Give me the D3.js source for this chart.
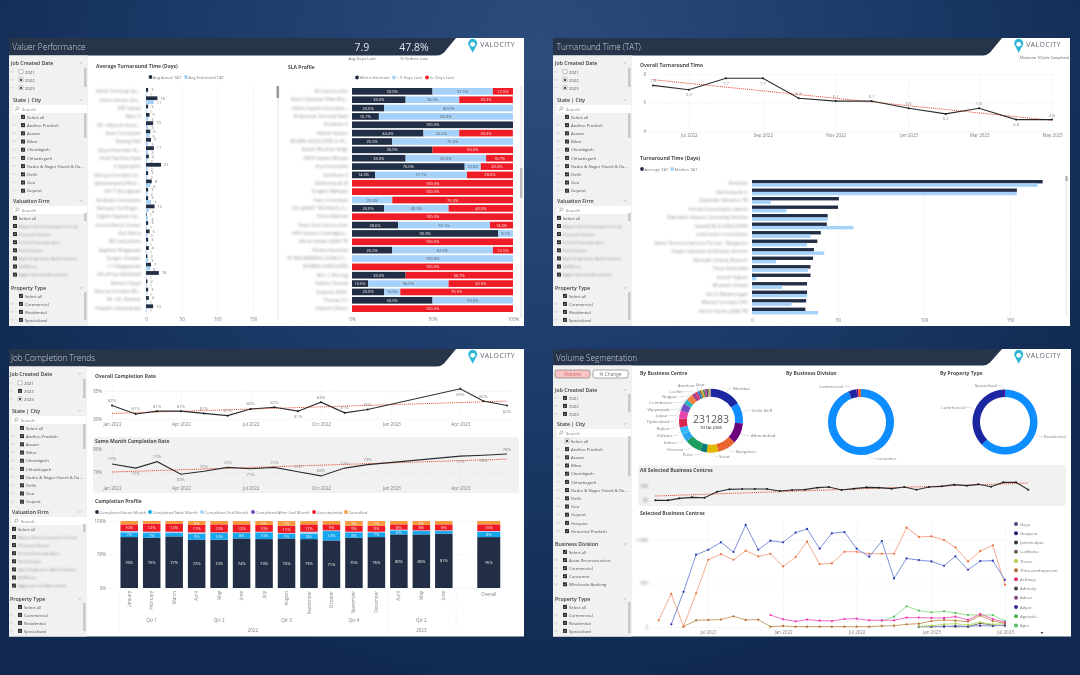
<!DOCTYPE html>
<html>
<head>
<meta charset="utf-8">
<script src="https://cdn.jsdelivr.net/npm/d3@7/dist/d3.min.js"></script>
<style>
  html, body { margin: 0; padding: 0; background: #132c55; overflow: hidden; }
  svg { display: block; }
  text { font-family: "Open Sans", "Noto Sans", sans-serif; }
</style>
</head>
<body>
<div id="chart"></div>
<script>
// ---------- data ----------
var years = ["2021", "2022", "2023"];
var states = ["Select all", "Andhra Pradesh", "Assam", "Bihar", "Chandigarh", "Chhattisgarh", "Dadra & Nagar Haveli & Da...", "Delhi", "Goa", "Gujarat"];
var statesLong = states.concat(["Haryana", "Himachal Pradesh"]);
var firms = ["Select all", "Bikam Shiva Vastusala Pvt Ltd", "Phoenix Valuers", "Sristal Vishvuda Barn", "Ruchi Shata", "Apex Engineers (Ankit Valuers", "Stiffeluss", "Aggarwal and Associates"];
var propertyTypes = ["Select all", "Commercial", "Residential", "Specialised"];
var divisions = ["Select all", "Asset Reconstruction", "Commercial", "Consumer", "Wholesale Banking"];

var valuerNames = ["Adroit Technical Ser...", "Adroit Stream Sha...", "EYE Valuati", "Babu D", "OD. Aditya & Associ...", "Ravin Consultant", "Shyang Patil", "Divya Amarnder As...", "Vivek Harshita Patel", "S Ayyanakshi", "Maruya Concepts Co...", "Satyanarayana Bhat ...", "Shri T Murugesan", "Shukkala Consultants", "Rachana Civil Engin...", "Yogesh Rajaram Vai...", "Arvind Maruti Chavan", "Atul Mahta", "BR Consultants", "Rajankar Bhagawaty", "Durgan Chutakh", "V V Rajagopalan", "Akruthhya Gehikhedi", "Mukesh Gupal", "Mourya Concepts Be...", "Mr. Vilt. Shankar", "Prakash Lokhandwala"];
var avgActual = [3, 16, 3, 5, 10, 6, 7, 11, 4, 21, 3, 8, 3, 3, 12, 1, 3, 5, 3, 4, 2, 7, 18, 2, 3, 4, 10];
var avgEstimated = [1, 11, 1, 3, 3, 5, 3, 3, 2, 2, 2, 6, 2, 7, 4, 3, 1, 2, 1, 1, 3, 6, 1, 1, 1, 1, 1];

var slaNames = ["SR Construction", "Adroit Valuation West Bro...", "Aditha Square Associates...", "Shilpkumar Amrutlal Patel", "Shubham K", "Maruti Valuers", "MUDRA ASSOCIATES & VA...", "Shashi Bhushan Singh", "ARCH Valuers Bhopal", "Arya Associates", "Certificare S", "Abhimanyu& Sk", "Durgam Mahajan", "Hasti Consultant", "HO ADROIT TECHNICAL S...", "Prince Mathew", "Titans Eval Construction", "ARVI Advisors Vadodgara...", "Adroit Valuers (GRR) TN", "Parulia Associate", "RF ENGINEERING CONSULT...", "SHARMA ASSOCIATES", "Shri. C Murong", "Subhas Tamsak", "Sukanno MVPC", "Thomas K V", "Adarshit Shouri"];
var slaWithin = [50, 33.3, 20, 16.7, 100, 44.4, 25, 50, 33.3, 70, 14.3, 0, 0, 0, 20, 0, 28.6, 90.9, 0, 25, 0, 0, 33.3, 10, 20, 50, 0];
var slaUnder5 = [37.5, 33.3, 80, 83.3, 0, 22.2, 75, 0, 50, 10, 57.1, 0, 0, 25, 40, 0, 57.1, 9.1, 0, 62.5, 100, 0, 0, 50, 10, 50, 0];
var slaOver5 = [12.5, 33.3, 0, 0, 0, 33.3, 0, 50, 16.7, 20, 28.6, 100, 100, 75, 40, 100, 14.3, 0, 100, 12.5, 0, 100, 66.7, 40, 70, 0, 100];

var tatMonths = ["2022-06", "2022-07", "2022-08", "2022-09", "2022-10", "2022-11", "2022-12", "2023-01", "2023-02", "2023-03", "2023-04", "2023-05"];
var tatValues = [7.2, 6.9, 7.7, 7.7, 6.3, 6.1, 6.1, 5.6, 5.2, 5.6, 4.8, 4.8];
var tatLabels = ["7.4", "6.9", "7.7", "7.7", "6.3", "6.1", "6.1", "5.6", "5.2", "5.6", "4.8", "4.8"];
var tatTrend = [7.6, 4.75];

var tatNames = ["Endurian", "Abhimanyu& sr", "Dependkr Valuation TN", "Arihant Consultation Vehicle", "Evaluation Aspects Consulting Services", "ValuedCRe & ASSOCIATES", "Subhranshu Consultants", "Adroit Technical Services Pvt Ltd. - Bengaluru", "Insight Valuation & Advisory Services", "Mrunalin Chokse_Bharuch", "Paras Associates", "Suresh Vajpani", "Mrunalin Chokse", "Shri D Balamurugan", "Maurya Concepts DPC", "Adroit Valuers (GRR) TN"];
var tatAverage = [169, 154, 50.5, 50, 44, 43.5, 40, 38, 36, 35.5, 34, 34, 32, 32, 31.5, 31];
var tatMedian = [166, 154, 11, 20, 44, 59, 34, 32, 42, 14, 32.5, 2.5, 17.5, 32, 23, 38.5];

var compMonths = ["2022-01", "2022-02", "2022-03", "2022-04", "2022-05", "2022-06", "2022-07", "2022-08", "2022-09", "2022-10", "2022-11", "2022-12", "2023-04", "2023-05", "2023-06"];
var overallRate = [82.4, 80.9, 81.4, 81.4, 81.0, 80.6, 81.8, 82.1, 81.4, 83.0, 81.1, 81.7, 85.4, 83.2, 82.4];
var overallLabels = ["82%", "81%", "81%", "81%", "81%", "81%", "82%", "82%", "81%", "83%", "81%", "82%", "85%", "85%", "82%"];
var overallTrend = [81.0, 83.2];
var sameRate = [73.5, 71.7, 74.5, 69, 70.3, 72, 71.4, 72, 70.1, 68.3, 71.7, 73.2, 76.9, 77.3, 77.8];
var sameLabels = ["73%", "72%", "75%", "69%", "70%", "72%", "71%", "72%", "70%", "68%", "72%", "73%", "77%", "78%", "78%"];
var sameTrend = [70, 75.6];

var profileKeys = ["Completed Same Month", "Completed Next Month", "Completed 2nd Month", "Completed After 2nd Month", "Uncompleted", "Cancelled"];
var profileMonths = ["January", "February", "March", "April", "May", "June", "July", "August", "September", "October", "November", "December", "April ", "May ", "June "];
var profileSame = [76, 75, 77, 72, 72, 74, 73, 74, 73, 71, 75, 76, 80, 80, 81];
var profileNext = [7, 7, 5, 9, 10, 8, 10, 7, 8, 14, 8, 7, 6, 5, 4];
var profile2nd = [2, 2, 2, 2, 1, 1, 1, 1, 3, 1, 1, 1, 1, 1, 1];
var profileAfter = [0, 0, 0, 0, 0, 0, 0, 0, 0, 0, 0, 0, 0, 0, 0];
var profileUncomp = [10, 12, 12, 11, 12, 12, 10, 11, 11, 9, 9, 9, 8, 8, 9];
var profileCancel = [5, 4, 4, 6, 5, 5, 6, 7, 5, 5, 7, 7, 5, 6, 5];
var overallProfile = [76, 8, 1, 0, 10, 5];

var centreNames = ["Mumbai", "Delhi NCR", "Ahmedabad", "Bangalore", "Surat", "Pune", "Chennai", "Indore", "Kolkata", "Rajkot", "Hyderabad", "Jaipur", "Vijayawada", "Coimbatore", "Nagpur", "Cochin", "Amritsar", "Goa", "", "", "", "", "", ""];
var centreJobs = [36600, 24400, 24400, 21800, 13500, 7700, 19300, 9000, 9000, 10300, 9600, 9000, 5800, 7700, 3900, 3200, 2600, 1900, 2000, 2000, 2000, 1900, 1900, 1900];
var divisionNames = ["Consumer", "Commercial", "Wholesale Banking", "Asset Reconstruction"];
var divisionJobs = [217000, 9000, 2000, 3283];
var typeNames = ["Residential", "Commercial", "Specialised"];
var typeJobs = [145000, 85000, 1283];

var allMonths = ["2021-01", "2021-02", "2021-03", "2021-04", "2021-05", "2021-06", "2021-07", "2021-08", "2021-09", "2021-10", "2021-11", "2021-12", "2022-01", "2022-02", "2022-03", "2022-04", "2022-05", "2022-06", "2022-07", "2022-08", "2022-09", "2022-10", "2022-11", "2022-12", "2023-01", "2023-02", "2023-03", "2023-04", "2023-05", "2023-06", "2023-07"];
var allCentres = [4880, 4880, 5595, 5950, 5830, 7975, 8810, 8930, 8930, 8930, 8215, 8570, 8690, 9405, 9640, 8570, 9050, 9520, 9405, 9050, 9640, 8690, 9640, 9880, 10475, 10120, 10595, 9760, 11300, 11300, 8690];
var allTrend = [6430, 11070];

var lineMonths = ["2021-03", "2021-04", "2021-05", "2021-06", "2021-07", "2021-08", "2021-09", "2021-10", "2021-11", "2021-12", "2022-01", "2022-02", "2022-03", "2022-04", "2022-05", "2022-06", "2022-07", "2022-08", "2022-09", "2022-10", "2022-11", "2022-12", "2023-01", "2023-02", "2023-03", "2023-04", "2023-05", "2023-06", "2023-07"];
var n = null;
var lineOrange = [77, 381, 4, 388, 773, 838, 773, 877, 811, 842, 696, 804, 981, 723, 731, 865, 865, 842, 842, 842, 1142, 1035, 1042, 1000, 915, 754, 873, 938, 485];
var lineBlue = [n, 31, 404, 831, 888, 973, 862, 1173, 888, 992, 973, 1085, 1127, 900, 1077, 1092, 900, 808, 988, 558, 788, 769, 754, 704, 812, 658, 758, 762, 542];
var lineGold = [n, n, 4, 77, 81, 85, 123, 81, 85, 4, 12, 4, 4, 4, 4, 4, 4, 4, 12, 15, 31, 38, 69, 81, 73, 62, 131, 69, 42];
var linePink = [n, n, n, n, n, n, n, n, n, 138, 88, 65, 85, 73, 69, 92, 96, 77, 77, 77, 108, 108, 104, 104, 119, 81, 150, 92, 54];
var lineGreen = [n, n, n, n, n, n, n, n, n, n, n, n, n, n, n, n, n, n, 73, 119, 238, 188, 169, 181, 162, 138, 138, 138, 69];
var lineLime = [n, n, n, n, n, n, n, n, n, n, n, n, n, n, n, n, n, n, n, n, n, 8, 15, 31, 38, 23, 54, 31, 38];
var lineDark = [n, n, n, n, n, n, n, n, n, n, n, n, n, n, n, n, n, n, n, n, n, 4, 4, 8, 4, 4, 42, 23, 15];
var lineNavy = [n, n, n, n, n, n, n, n, n, n, n, n, n, n, n, n, n, n, n, n, n, 4, 4, 4, 12, 8, 15, 12, 23];
var legendNames = ["Gaya", "Gurgaon", "Jamshedpur", "Ludhiana", "Thane", "Thiruvanthapuram", "Achhaja", "Adimaly", "Adoor", "Adyar", "Agartala", "Agra"];

// ---------- colours ----------
var navy = "#242f45", sky = "#a6d2fa", red = "#ee1c25", header = "#27344a", gridGrey = "#d8d8d8", textGrey = "#7d7d7d", titleGrey = "#4a4a4a";
var profileColors = [navy, "#12a6ee", sky, "#6b3fc0", red, "#f79a3e"];
var centreColors = ["#1a25a0", "#118dff", "#6b007b", "#e8662e", "#e5b800", "#0a7c78", "#1f9e5f", "#2aa5f0", "#38b6f5", "#d9264f", "#e645ab", "#744ec2", "#2cb5c0", "#f0803c", "#9c3d8f", "#d63a6a", "#2f6fd0", "#7a7a3a", "#e0a030", "#3a8a5a", "#c03a90", "#444a8a", "#b09030", "#999999"];
var legendColors = ["#4a4a7a", "#1a1a6e", "#333333", "#7a5a50", "#a8d040", "#b07030", "#e8306a", "#444444", "#7a4a7a", "#3a2a9a", "#50b050", "#50c060"];

var parseMonth = d3.utcParse("%Y-%m");
var monthFormat = d3.utcFormat("%b %Y");

var svg = d3.select("#chart").append("svg").attr("width", 1080).attr("height", 675);
var defs = svg.append("defs");

var bg = defs.append("radialGradient").attr("id", "bg").attr("gradientUnits", "userSpaceOnUse")
  .attr("cx", 540).attr("cy", 60).attr("r", 640);
bg.append("stop").attr("offset", "0").attr("stop-color", "#2c4c7c");
bg.append("stop").attr("offset", "0.55").attr("stop-color", "#1b3a68");
bg.append("stop").attr("offset", "1").attr("stop-color", "#11294f");

defs.append("filter").attr("id", "soft").attr("x", "0").attr("y", "0").attr("width", "100%").attr("height", "100%")
  .append("feGaussianBlur").attr("stdDeviation", 0.45);
defs.append("filter").attr("id", "smear").attr("x", "-10%").attr("y", "-60%").attr("width", "120%").attr("height", "220%")
  .append("feGaussianBlur").attr("stdDeviation", 1.15);

svg.append("rect").attr("width", 1080).attr("height", 675).attr("fill", "url(#bg)");
var root = svg.append("g").attr("filter", "url(#soft)");

// ---------- helpers ----------
function label(g, x, y, str, size, color, anchor, weight) {
  return g.append("text").attr("x", x).attr("y", y).text(str)
    .attr("font-size", size).attr("fill", color || textGrey)
    .attr("text-anchor", anchor || "start").attr("font-weight", weight || 400);
}

function chartTitle(g, x, y, str) {
  return label(g, x, y, str, 5, titleGrey, "start", 700);
}

function chevron(g, x, y, color) {
  g.append("path").attr("d", `M${x - 1.6},${y - 1} L${x},${y + 0.6} L${x + 1.6},${y - 1}`)
    .attr("fill", "none").attr("stroke", color || "#999").attr("stroke-width", 0.5);
}

function checkbox(g, x, y, state) {
  if (state === "on") {
    g.append("rect").attr("x", x).attr("y", y - 3.6).attr("width", 4).attr("height", 4).attr("fill", "#2a2a2a");
    g.append("path").attr("d", `M${x + 0.8},${y - 1.6} L${x + 1.7},${y - 0.7} L${x + 3.2},${y - 2.7}`)
      .attr("fill", "none").attr("stroke", "#fff").attr("stroke-width", 0.45);
  } else {
    g.append("rect").attr("x", x).attr("y", y - 3.6).attr("width", 4).attr("height", 4)
      .attr("fill", "#fff").attr("stroke", "#777").attr("stroke-width", 0.4);
    if (state === "part") {
      g.append("rect").attr("x", x + 1).attr("y", y - 2.6).attr("width", 2).attr("height", 2).attr("fill", "#444");
    }
  }
}

// one slicer section: heading, optional search box, list of ticks, scrollbar
function slicerSection(g, o) {
  label(g, o.headX, o.headY, o.title, 5.2, "#3a3a3a", "start", 600);
  chevron(g, o.right - 7, o.headY - 2);
  if (o.search) {
    g.append("rect").attr("x", o.headX).attr("y", o.headY + 3).attr("width", o.right - o.headX - 1).attr("height", 8).attr("fill", "#fff");
    g.append("circle").attr("cx", o.headX + 4.5).attr("cy", o.headY + 6.3).attr("r", 1.5).attr("fill", "none").attr("stroke", "#555").attr("stroke-width", 0.4);
    g.append("path").attr("d", `M${o.headX + 3.4},${o.headY + 7.4} L${o.headX + 2},${o.headY + 8.9}`).attr("stroke", "#555").attr("stroke-width", 0.5);
    label(g, o.headX + 9, o.headY + 8.7, "Search", 4.3, "#777");
  }
  o.items.forEach(function(item, i) {
    var y = o.firstY + i * o.step;
    if (y > o.clipY) return;
    var tree = o.tree && (o.treeAll || i > 0);
    if (tree) chevron(g, o.boxX - 7, y - 1.6, "#aaa");
    checkbox(g, o.boxX, y, o.states ? o.states[i] : "on");
    var t = label(g, o.boxX + 6, y, item, 4.25, "#555");
    if (o.smear && i > 0) t.attr("filter", "url(#smear)").attr("fill", "#8a8a8a");
  });
  if (o.thumb) {
    g.append("rect").attr("x", o.right - 4).attr("y", o.thumb[0]).attr("width", 2.6).attr("height", o.thumb[1] - o.thumb[0]).attr("fill", "#c9c9c9");
  }
}

function panelShell(px, py, w, h, title, notchTop, notchBottom, headH, paneW, titleX) {
  var g = root.append("g");
  g.append("rect").attr("x", px).attr("y", py).attr("width", w).attr("height", h).attr("fill", "#fff");
  g.append("path")
    .attr("d", `M${px},${py} H${notchTop} L${notchBottom + 4},${py + headH - 3} Q${notchBottom + 1},${py + headH} ${notchBottom - 3},${py + headH} H${px} Z`)
    .attr("fill", header);
  g.append("rect").attr("x", px).attr("y", py + headH).attr("width", paneW).attr("height", h - headH).attr("fill", "#f1f1f1");
  label(g, titleX, py + 12, title, 8.2, "#c9d2de", "start", 300);
  // logo
  var lx = notchTop + 16.7, ly = py + 6.8;
  g.append("path")
    .attr("d", `M${lx - 4.2},${ly} A4.5,4.5 0 1 1 ${lx + 4.2},${ly} L${lx},${ly + 8} Z`)
    .attr("fill", "#2db6d6");
  g.append("circle").attr("cx", lx).attr("cy", ly - 0.5).attr("r", 2.4).attr("fill", "#fff");
  label(g, lx + 7.5, ly + 2.6, "VALOCITY", 6.9, "#5d6670", "start", 500).attr("letter-spacing", 0.45);
  return g;
}

function standardSlicers(g, dx, dy, yearStates, clipY) {
  var right = 88 + dx;
  slicerSection(g, { title: "Job Created Date", headX: 11 + dx, headY: 65 + dy, right: right, items: years, firstY: 73.5 + dy, step: 8, boxX: 19 + dx, tree: true, treeAll: true, states: yearStates, thumb: [68 + dy, 87 + dy], clipY: clipY });
  slicerSection(g, { title: "State | City", headX: 13 + dx, headY: 102 + dy, right: right, items: states, search: true, firstY: 118.5 + dy, step: 8.2, boxX: 21 + dx, tree: true, thumb: [113 + dy, 138 + dy], clipY: clipY });
  slicerSection(g, { title: "Valuation Firm", headX: 13 + dx, headY: 203 + dy, right: right, items: firms, search: true, firstY: 219.5 + dy, step: 8.1, boxX: 13 + dx, smear: true, thumb: [213 + dy, 221 + dy], clipY: clipY });
  slicerSection(g, { title: "Property Type", headX: 11 + dx, headY: 290 + dy, right: right, items: propertyTypes, firstY: 297.5 + dy, step: 8, boxX: 19 + dx, tree: true, thumb: [292 + dy, 320 + dy], clipY: clipY });
}

function bottomAxis(g, scale, y, gridTop, values, format) {
  var axis = d3.axisBottom(scale).tickSize(0).tickPadding(0);
  if (values) axis.tickValues(values);
  if (format) axis.tickFormat(format);
  var a = g.append("g").attr("transform", `translate(0,${y})`).call(axis);
  a.select(".domain").remove();
  a.selectAll("text").attr("font-size", 4.5).attr("fill", textGrey).attr("font-family", "Open Sans");
  if (gridTop !== null) {
    a.selectAll(".tick line").attr("y1", -4).attr("y2", gridTop - y).attr("stroke", gridGrey).attr("stroke-width", 0.45).attr("stroke-dasharray", "1 1.2");
  }
  return a;
}

function leftAxis(g, scale, x, gridRight, values, format, size) {
  var axis = d3.axisLeft(scale).tickSize(0).tickPadding(3).tickValues(values);
  if (format) axis.tickFormat(format);
  var a = g.append("g").attr("transform", `translate(${x},0)`).call(axis);
  a.select(".domain").remove();
  a.selectAll("text").attr("font-size", size || 4.5).attr("fill", textGrey).attr("font-family", "Open Sans");
  a.selectAll(".tick line").attr("x1", 0).attr("x2", gridRight - x).attr("stroke", gridGrey).attr("stroke-width", 0.45).attr("stroke-dasharray", "1 1.2");
  return a;
}

function legend(g, y, names, colors, xs) {
  names.forEach(function(name, i) {
    g.append("circle").attr("cx", xs[i]).attr("cy", y).attr("r", 1.9).attr("fill", colors[i]);
    label(g, xs[i] + 2.5, y + 1.5, name, 4.15, textGrey);
  });
}

// black line with dots, red dotted trend and value labels
function trendLine(g, x, y, dates, values, trend, labels, sides, offset) {
  var line = d3.line().x((d, i) => x(dates[i])).y(d => y(d));
  g.append("path").datum(trend).attr("fill", "none").attr("stroke", "#e8492a").attr("stroke-width", 1).attr("stroke-dasharray", "1.1 1")
    .attr("d", d3.line().x((d, i) => x(dates[i === 0 ? 0 : dates.length - 1])).y(d => y(d)));
  g.append("path").datum(values).attr("fill", "none").attr("stroke", "#2c2c2c").attr("stroke-width", 1.1).attr("d", line);
  g.selectAll("circle.pt").data(values).enter().append("circle").attr("class", "pt")
    .attr("cx", (d, i) => x(dates[i])).attr("cy", d => y(d)).attr("r", 1).attr("fill", "#1c1c1c");
  if (labels) {
    labels.forEach(function(t, i) {
      var dy = sides[i] > 0 ? offset + 3.5 : -offset;
      label(g, x(dates[i]), y(values[i]) + dy, t, 4.2, "#8a8a8a", "middle");
    });
  }
}

// ---------- Valuer Performance ----------
var p1 = panelShell(9, 38, 515, 288, "Valuer Performance", 456, 440, 17.5, 79, 12.3);
standardSlicers(p1, 0, 0, ["off", "part", "part"], 325);

label(p1, 362, 51, "7.9", 10.5, "#dfe4ea", "middle", 400);
label(p1, 414, 51, "47.8%", 10.5, "#dfe4ea", "middle", 400);
label(p1, 362, 60, "Avg Days Late", 4.2, "#6d6d6d", "middle");
label(p1, 414, 60, "% Orders Late", 4.2, "#6d6d6d", "middle");

chartTitle(p1, 96, 67.5, "Average Turnaround Time (Days)");
legend(p1, 77, ["Avg Actual TAT", "Avg Estimated TAT"], [navy, sky], [150.5, 186]);

var tatX1 = d3.scaleLinear().domain([0, 150]).range([146, 253]);
var rowY1 = d3.scaleBand().domain(valuerNames).range([88, 312]).paddingInner(0.08);
var subY1 = d3.scaleBand().domain(["actual", "estimated"]).range([0, rowY1.bandwidth()]).paddingInner(0);

bottomAxis(p1, tatX1, 318, 85, [0, 50, 100, 150]);
p1.append("rect").attr("x", 277).attr("y", 86).attr("width", 2).attr("height", 234).attr("fill", "#f0f0f0");
p1.append("rect").attr("x", 276.5).attr("y", 86).attr("width", 2.6).attr("height", 12).attr("fill", "#9a9a9a");
p1.append("line").attr("x1", tatX1(0)).attr("x2", tatX1(0)).attr("y1", 86).attr("y2", 312).attr("stroke", "#e4e4e4").attr("stroke-width", 0.4);

var rows1 = p1.selectAll("g.valuer").data(valuerNames).enter().append("g").attr("class", "valuer")
  .attr("transform", d => `translate(0,${rowY1(d)})`);
rows1.append("text").attr("x", 141).attr("y", rowY1.bandwidth() / 2 + 1.6).attr("text-anchor", "end")
  .attr("font-size", 4.5).attr("fill", "#999").attr("filter", "url(#smear)").text(d => d);
rows1.append("rect").attr("x", tatX1(0)).attr("y", subY1("actual"))
  .attr("width", (d, i) => tatX1(avgActual[i]) - tatX1(0)).attr("height", subY1.bandwidth()).attr("fill", navy);
rows1.append("rect").attr("x", tatX1(0)).attr("y", subY1("estimated"))
  .attr("width", (d, i) => tatX1(avgEstimated[i]) - tatX1(0)).attr("height", subY1.bandwidth()).attr("fill", sky);
rows1.append("text").attr("x", (d, i) => tatX1(avgActual[i]) + 3).attr("y", subY1("actual") + 3.2)
  .attr("font-size", 4).attr("fill", "#777").text((d, i) => avgActual[i]);
rows1.append("text").attr("x", (d, i) => tatX1(avgEstimated[i]) + 3).attr("y", subY1("estimated") + 4.2)
  .attr("font-size", 4).attr("fill", "#777").text((d, i) => avgEstimated[i]);

chartTitle(p1, 288, 68.5, "SLA Profile");
legend(p1, 77.5, ["Within Estimate", "< 5 Days Late", "5+ Days Late"], [navy, sky, red], [357, 394, 427]);

var slaX = d3.scaleLinear().domain([0, 100]).range([352, 513]);
var slaY = d3.scaleBand().domain(slaNames).range([88, 312]).paddingInner(0.2);
var slaKeys = ["within", "under5", "over5"];
var slaRows = slaNames.map((name, i) => ({ name: name, within: slaWithin[i], under5: slaUnder5[i], over5: slaOver5[i] }));
var slaColor = d3.scaleOrdinal().domain(slaKeys).range([navy, sky, red]);
var slaStack = d3.stack().keys(slaKeys)(slaRows);

bottomAxis(p1, slaX, 318, null, [0, 50, 100], d => d + "%");
p1.selectAll("text.slaName").data(slaNames).enter().append("text").attr("class", "slaName")
  .attr("x", 348).attr("y", d => slaY(d) + slaY.bandwidth() / 2 + 1.6).attr("text-anchor", "end")
  .attr("font-size", 4.5).attr("fill", "#999").attr("filter", "url(#smear)").text(d => d);
slaStack.forEach(function(layer) {
  var k = layer.key;
  var gl = p1.append("g");
  gl.selectAll("rect").data(layer).enter().append("rect")
    .attr("x", d => slaX(d[0])).attr("y", d => slaY(d.data.name))
    .attr("width", d => slaX(d[1]) - slaX(d[0])).attr("height", slaY.bandwidth()).attr("fill", slaColor(k));
  gl.selectAll("text").data(layer.filter(d => d[1] - d[0] > 0)).enter().append("text")
    .attr("x", d => (slaX(d[0]) + slaX(d[1])) / 2).attr("y", d => slaY(d.data.name) + slaY.bandwidth() / 2 + 1.5)
    .attr("text-anchor", "middle").attr("font-size", 4).attr("fill", k === "under5" ? "#555" : "#eee")
    .text(d => (d[1] - d[0]).toFixed(1) + "%");
});
p1.append("rect").attr("x", 520).attr("y", 86).attr("width", 2.4).attr("height", 232).attr("fill", "#f0f0f0");
p1.append("rect").attr("x", 520).attr("y", 168).attr("width", 2.4).attr("height", 30).attr("fill", "#bcbcbc");

// ---------- Turnaround Time ----------
var p2 = panelShell(553, 38, 517, 288, "Turnaround Time (TAT)", 1002, 986, 17.5, 79, 556.7);
standardSlicers(p2, 544, 0, ["off", "part", "part"], 325);
label(p2, 1069, 59, "Minimum 10 Jobs Completed", 3.9, "#666", "end").attr("font-style", "italic");

chartTitle(p2, 640, 66.5, "Overall Turnaround Time");
var tatDates = tatMonths.map(parseMonth);
var tatLineX = d3.scaleUtc().domain([tatDates[0], tatDates[11]]).range([653, 1052]);
var tatLineY = d3.scaleLinear().domain([4, 8]).range([131, 74]);
leftAxis(p2, tatLineY, 649, 1055, [4, 6, 8], d3.format("d"));
bottomAxis(p2, tatLineX, 134, 74, tatDates.filter((d, i) => i % 2 === 1), monthFormat);
trendLine(p2, tatLineX, tatLineY, tatDates, tatValues, tatTrend, tatLabels, [-1, 1, 1, 1, -1, -1, -1, -1, 1, -1, 1, -1], 3);

chartTitle(p2, 640, 159.5, "Turnaround Time (Days)");
legend(p2, 169, ["Average TAT", "Median TAT"], [navy, sky], [642, 672]);

var barX = d3.scaleLinear().domain([0, 150]).range([752, 1010]);
var barY = d3.scaleBand().domain(tatNames).range([180, 314.4]).paddingInner(0.2);
var barSub = d3.scaleBand().domain(["average", "median"]).range([0, barY.bandwidth()]);
bottomAxis(p2, barX, 319, 176, [0, 50, 100, 150]);
var rows2 = p2.selectAll("g.tat").data(tatNames).enter().append("g").attr("class", "tat")
  .attr("transform", d => `translate(0,${barY(d)})`);
rows2.append("text").attr("x", 748).attr("y", barY.bandwidth() / 2 + 1.6).attr("text-anchor", "end")
  .attr("font-size", 4.5).attr("fill", "#999").attr("filter", "url(#smear)").text(d => d);
rows2.append("rect").attr("x", barX(0)).attr("y", barSub("average"))
  .attr("width", (d, i) => barX(tatAverage[i]) - barX(0)).attr("height", barSub.bandwidth()).attr("fill", navy);
rows2.append("rect").attr("x", barX(0)).attr("y", barSub("median"))
  .attr("width", (d, i) => barX(tatMedian[i]) - barX(0)).attr("height", barSub.bandwidth()).attr("fill", sky);
p2.append("rect").attr("x", 1065.5).attr("y", 176).attr("width", 2).attr("height", 140).attr("fill", "#f0f0f0");
p2.append("rect").attr("x", 1065.5).attr("y", 176).attr("width", 2).attr("height", 5).attr("fill", "#aaa");

// ---------- Job Completion Trends ----------
var p3 = panelShell(9, 349, 515, 287.5, "Job Completion Trends", 456, 440, 17.5, 78, 11);
standardSlicers(p3, -1, 311, ["off", "on", "part"], 634);

var compDates = compMonths.map(parseMonth);
var compX = d3.scaleUtc().domain([compDates[0], compDates[14]]).range([112, 507]);
var compTicks = ["2022-01", "2022-04", "2022-07", "2022-10", "2023-01", "2023-04"].map(parseMonth);

chartTitle(p3, 95, 378, "Overall Completion Rate");
var rateY = d3.scaleLinear().domain([80, 85]).range([419, 391]);
leftAxis(p3, rateY, 105, 512, [80, 85], d => d + "%");
bottomAxis(p3, compX, 422.3, 386, compTicks, monthFormat);
trendLine(p3, compX, rateY, compDates, overallRate, overallTrend, overallLabels, [-1, -1, -1, -1, -1, -1, -1, -1, 1, -1, -1, -1, 1, -1, 1], 3.5);

p3.append("rect").attr("x", 93).attr("y", 437).attr("width", 426).attr("height", 56).attr("rx", 3).attr("fill", "#f1f1f1");
chartTitle(p3, 95, 442.5, "Same Month Completion Rate");
var sameY = d3.scaleLinear().domain([70, 80]).range([472, 449]);
leftAxis(p3, sameY, 105, 512, [70, 80], d => d + "%");
bottomAxis(p3, compX, 486.5, 449, compTicks, monthFormat);
trendLine(p3, compX, sameY, compDates, sameRate, sameTrend, sameLabels, [-1, 1, -1, 1, -1, -1, 1, -1, -1, -1, -1, -1, 1, 1, -1], 3.5);

chartTitle(p3, 95, 503, "Completion Profile");
legend(p3, 512, profileKeys, profileColors, [97, 150, 202, 253, 314, 346]);

// 17 slots: the 15 months, one empty slot and the overall bar
var slots = profileMonths.concat([" ", "Overall"]);
var profileX = d3.scaleBand().domain(slots).range([118, 500]).paddingInner(0.22).paddingOuter(0.11);
var profileY = d3.scaleLinear().domain([0, 100]).range([588, 521]);
leftAxis(p3, profileY, 109, 500, [0, 50, 100], d => d + "%");
var profileRows = profileMonths.map(function(m, i) {
  var row = { month: m };
  [profileSame, profileNext, profile2nd, profileAfter, profileUncomp, profileCancel].forEach((s, k) => { row[profileKeys[k]] = s[i]; });
  return row;
});
var overallRow = { month: "Overall" };
profileKeys.forEach((k, i) => { overallRow[k] = overallProfile[i]; });
var overallWidth = 23;
d3.stack().keys(profileKeys)(profileRows.concat([overallRow])).forEach(function(layer, li) {
  var gl = p3.append("g");
  var bx = d => d.data.month === "Overall" ? profileX("Overall") + profileX.bandwidth() / 2 - overallWidth / 2 : profileX(d.data.month);
  var bw = d => d.data.month === "Overall" ? overallWidth : profileX.bandwidth();
  gl.selectAll("rect").data(layer).enter().append("rect")
    .attr("x", bx).attr("y", d => profileY(d[1])).attr("width", bw)
    .attr("height", d => profileY(d[0]) - profileY(d[1])).attr("fill", profileColors[li]);
  gl.selectAll("text").data(layer.filter(d => d[1] - d[0] >= 6)).enter().append("text")
    .attr("x", d => bx(d) + bw(d) / 2).attr("y", d => (profileY(d[0]) + profileY(d[1])) / 2 + 1.5)
    .attr("text-anchor", "middle").attr("font-size", 4).attr("fill", "#f2f2f2").text(d => (d[1] - d[0]) + "%");
});
p3.selectAll("text.month").data(slots.filter(d => d !== " ")).enter().append("text").attr("class", "month")
  .attr("transform", function(d) {
    return d === "Overall" ? `translate(${profileX(d) + profileX.bandwidth() / 2},596)`
      : `translate(${profileX(d) + profileX.bandwidth() / 2 + 1.5},591) rotate(-90)`;
  })
  .attr("text-anchor", d => d === "Overall" ? "middle" : "end").attr("font-size", 4.5).attr("fill", textGrey).text(d => d.trim());

function bandCentre(a, b) { return (profileX(a) + profileX(b) + profileX.bandwidth()) / 2; }
[["Qtr 1", "January", "March"], ["Qtr 2", "April", "June"], ["Qtr 3", "July", "September"], ["Qtr 4", "October", "December"], ["Qtr 2", "April ", "June "]].forEach(function(q) {
  label(p3, bandCentre(q[1], q[2]), 622, q[0], 4.5, textGrey, "middle");
});
label(p3, bandCentre("January", "December"), 631.5, "2022", 4.5, textGrey, "middle");
label(p3, bandCentre("April ", "June "), 631.5, "2023", 4.5, textGrey, "middle");
["January", "April ", " "].forEach(function(k) {
  var xv = profileX(k) - 1.5;
  p3.append("line").attr("x1", xv).attr("x2", xv).attr("y1", 590).attr("y2", 634).attr("stroke", gridGrey).attr("stroke-width", 0.45).attr("stroke-dasharray", "1 1.2");
});

// ---------- Volume Segmentation ----------
var p4 = panelShell(553, 349, 518, 287.5, "Volume Segmentation", 1002, 986, 16.5, 79, 556);
p4.append("rect").attr("x", 555).attr("y", 370).attr("width", 35).attr("height", 8).attr("rx", 2).attr("fill", "#f9c5c5").attr("stroke", "#555").attr("stroke-width", 0.5);
p4.append("rect").attr("x", 593).attr("y", 370).attr("width", 35).attr("height", 8).attr("rx", 2).attr("fill", "#fff").attr("stroke", "#555").attr("stroke-width", 0.5);
label(p4, 572.5, 376, "Volume", 4.8, "#c66", "middle");
label(p4, 610.5, 376, "% Change", 4.8, "#777", "middle");
var right4 = 632;
slicerSection(p4, { title: "Job Created Date", headX: 555, headY: 392, right: right4, items: years, firstY: 399.5, step: 8, boxX: 563, tree: true, treeAll: true, thumb: [394, 412], clipY: 634 });
var stateMarks = statesLong.map((d, i) => i === 0 ? "part" : "on");
slicerSection(p4, { title: "State | City", headX: 557, headY: 426, right: right4, items: statesLong, search: true, firstY: 442.5, step: 8.2, boxX: 565, tree: true, states: stateMarks, thumb: [436, 476], clipY: 634 });
slicerSection(p4, { title: "Business Division", headX: 555, headY: 546, right: right4, items: divisions, firstY: 553.5, step: 8.1, boxX: 563, tree: true, clipY: 634 });
slicerSection(p4, { title: "Property Type", headX: 555, headY: 601, right: right4, items: propertyTypes, firstY: 608.5, step: 8, boxX: 563, tree: true, thumb: [602, 633], clipY: 634 });

function donut(g, cx, cy, rOuter, rInner, values, colors) {
  var pie = d3.pie().sort(null).value(d => d)(values);
  var arc = d3.arc().innerRadius(rInner).outerRadius(rOuter);
  g.append("g").attr("transform", `translate(${cx},${cy})`).selectAll("path").data(pie).enter().append("path")
    .attr("d", arc).attr("fill", (d, i) => colors[i]);
  return pie;
}

// leader from the slice to its text; the text spots are layout, not data
function leaders(g, cx, cy, rOuter, pie, names, spots) {
  spots.forEach(function(s) {
    var i = names.indexOf(s.name);
    var a = (pie[i].startAngle + pie[i].endAngle) / 2;
    var sx = cx + Math.sin(a) * rOuter, sy = cy - Math.cos(a) * rOuter;
    var side = s.anchor === "end" ? 1 : -1;
    var ex = s.x + side * 1;
    var mx = sx + (ex - sx) * 0.5;
    g.append("path").attr("d", `M${sx},${sy} L${mx},${s.y - 1.5} L${ex},${s.y - 1.5}`)
      .attr("fill", "none").attr("stroke", "#aaa").attr("stroke-width", 0.35);
    label(g, s.x, s.y, s.name, 4.3, "#7a7a7a", s.anchor);
  });
}

chartTitle(p4, 640, 375, "By Business Centre");
var centreCx = 711, centreCy = 420.7;
var centrePie = donut(p4, centreCx, centreCy, 32, 24, centreJobs, centreColors);
leaders(p4, centreCx, centreCy, 32, centrePie, centreNames, [
  { name: "Mumbai", x: 733, y: 390, anchor: "start" }, { name: "Delhi NCR", x: 752, y: 412, anchor: "start" },
  { name: "Ahmedabad", x: 751, y: 437, anchor: "start" }, { name: "Bangalore", x: 736, y: 453, anchor: "start" },
  { name: "Surat", x: 719, y: 458, anchor: "start" }, { name: "Pune", x: 693, y: 456, anchor: "end" },
  { name: "Chennai", x: 683, y: 451, anchor: "end" }, { name: "Indore", x: 677, y: 444, anchor: "end" },
  { name: "Kolkata", x: 672, y: 437, anchor: "end" }, { name: "Rajkot", x: 669, y: 430, anchor: "end" },
  { name: "Hyderabad", x: 669, y: 423, anchor: "end" }, { name: "Jaipur", x: 668, y: 417, anchor: "end" },
  { name: "Vijayawada", x: 670, y: 411, anchor: "end" }, { name: "Coimbatore", x: 673, y: 404, anchor: "end" },
  { name: "Nagpur", x: 677, y: 398, anchor: "end" }, { name: "Cochin", x: 683, y: 393, anchor: "end" },
  { name: "Amritsar", x: 695, y: 387, anchor: "end" }, { name: "Goa", x: 704, y: 386, anchor: "end" }
]);
label(p4, centreCx, centreCy + 2.5, "231283", 10.5, "#555", "middle");
label(p4, centreCx, centreCy + 8, "TOTAL JOBS", 3.8, "#555", "middle", 600);

chartTitle(p4, 786, 375, "By Business Division");
var divPie = donut(p4, 861, 422, 33, 25, divisionJobs, ["#118dff", "#1a25a0", "#6b007b", "#e8662e"]);
leaders(p4, 861, 422, 33, divPie, divisionNames, [
  { name: "Commercial", x: 843, y: 388, anchor: "end" }, { name: "Consumer", x: 876, y: 460, anchor: "start" }
]);

chartTitle(p4, 940, 375, "By Property Type");
var typePie = donut(p4, 1005, 422, 32.5, 25, typeJobs, ["#118dff", "#1a25a0", "#6b007b"]);
leaders(p4, 1005, 422, 32.5, typePie, typeNames, [
  { name: "Specialised", x: 997, y: 387, anchor: "end" }, { name: "Commercial", x: 965, y: 409, anchor: "end" },
  { name: "Residential", x: 1044, y: 438, anchor: "start" }
]);

p4.append("rect").attr("x", 638).attr("y", 465).attr("width", 428).attr("height", 41).attr("rx", 3).attr("fill", "#f1f1f1");
chartTitle(p4, 640, 471.5, "All Selected Business Centres");
var allDates = allMonths.map(parseMonth);
var allX = d3.scaleUtc().domain([allDates[0], allDates[30]]).range([655.3, 1028.3]);
var allY = d3.scaleLinear().domain([5000, 10000]).range([500, 486]);
var allAxis = leftAxis(p4, allY, 651, 651, [5000, 10000], d => (d / 1000) + "K");
allAxis.selectAll("text").attr("filter", "url(#smear)");
trendLine(p4, allX, allY, allDates, allCentres, allTrend, null, null, 0);

chartTitle(p4, 640, 515, "Selected Business Centres");
var volDates = lineMonths.map(parseMonth);
var volX = d3.scaleUtc().domain([volDates[0], volDates[28]]).range([658.7, 1005]);
var volY = d3.scaleLinear().domain([0, 1000]).range([627, 540]);
var volAxis = leftAxis(p4, volY, 651, 1008, [0, 500, 1000], d3.format(","));
volAxis.selectAll("text").attr("filter", "url(#smear)");
bottomAxis(p4, volX, 630.6, 522, ["2021-07", "2022-01", "2022-07", "2023-01", "2023-07"].map(parseMonth), monthFormat);

var volSeries = [
  { values: lineDark, line: "#777", dot: "#333" },
  { values: lineNavy, line: "#8a90d8", dot: "#3a2a9a" },
  { values: lineLime, line: "#bce070", dot: "#a8d040" },
  { values: lineGreen, line: "#98e090", dot: "#50c060" },
  { values: lineGold, line: "#caa26a", dot: "#b07030" },
  { values: linePink, line: "#f070c8", dot: "#ee30b0" },
  { values: lineOrange, line: "#f5ab8e", dot: "#ee6f3c" },
  { values: lineBlue, line: "#7d92dc", dot: "#2438b0" }
];
volSeries.forEach(function(s) {
  var line = d3.line().defined(d => d !== null).x((d, i) => volX(volDates[i])).y(d => volY(d));
  p4.append("path").datum(s.values).attr("fill", "none").attr("stroke", s.line).attr("stroke-width", 1).attr("d", line);
  p4.append("g").selectAll("circle").data(s.values.map((v, i) => ({ v: v, i: i })).filter(d => d.v !== null)).enter().append("circle")
    .attr("cx", d => volX(volDates[d.i])).attr("cy", d => volY(d.v)).attr("r", 1.1).attr("fill", s.dot);
});

var legendY = d3.scalePoint().domain(legendNames).range([524, 625.5]);
p4.selectAll("circle.lg").data(legendNames).enter().append("circle").attr("class", "lg")
  .attr("cx", 1016).attr("cy", d => legendY(d)).attr("r", 2).attr("fill", (d, i) => legendColors[i]);
p4.selectAll("text.lg").data(legendNames).enter().append("text").attr("class", "lg")
  .attr("x", 1020).attr("y", d => legendY(d) + 1.6).attr("font-size", 4.3).attr("fill", "#7a7a7a").text(d => d);
p4.append("path").attr("d", "M1040.5,632 H1043.5 L1042,634 Z").attr("fill", "#333");
</script>
</body>
</html>
